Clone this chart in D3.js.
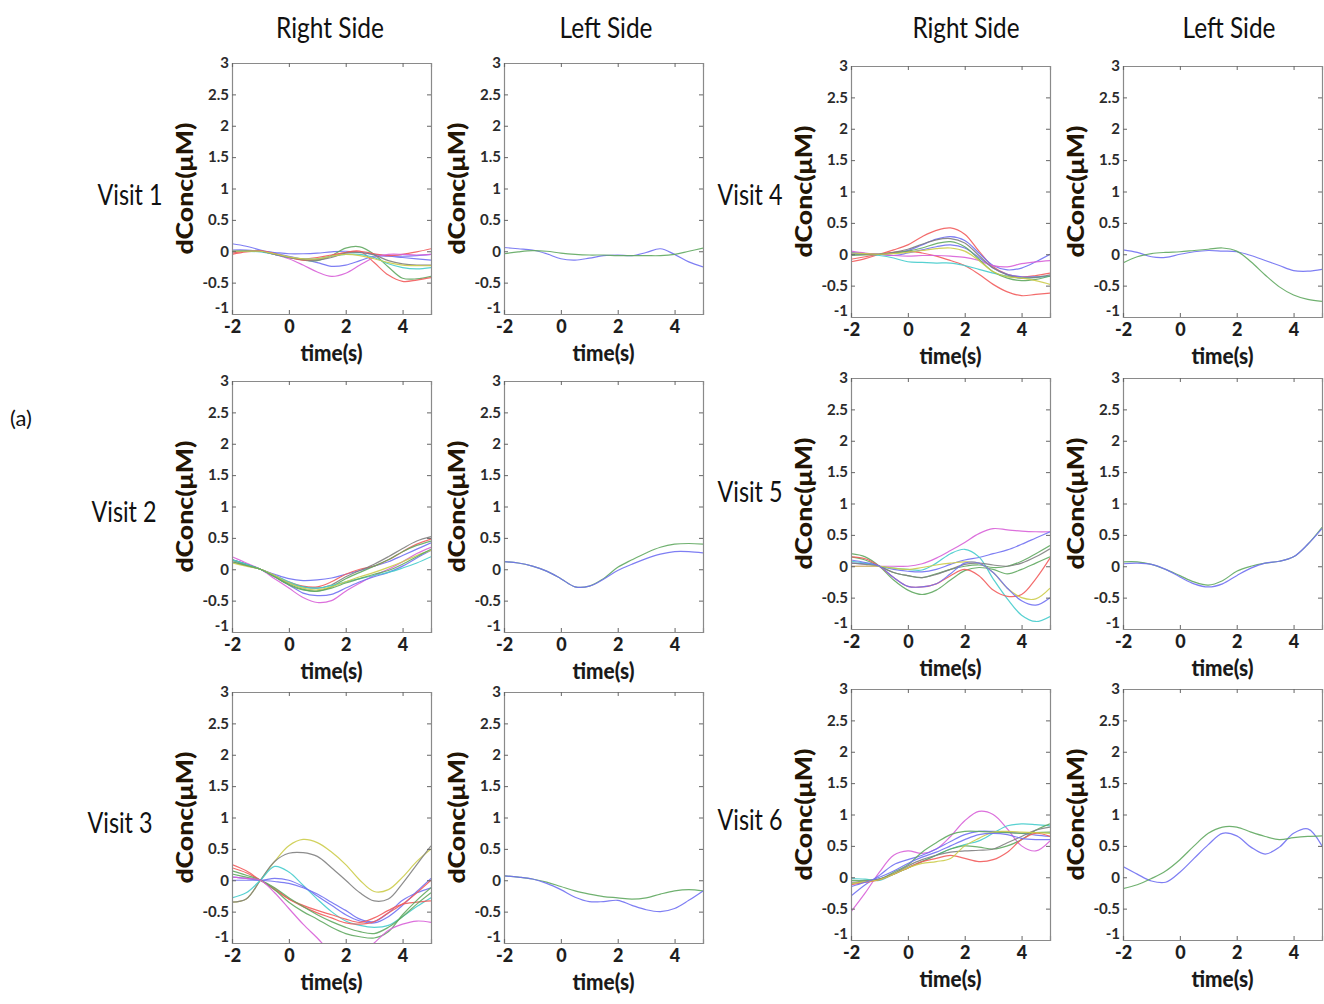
<!DOCTYPE html>
<html>
<head>
<meta charset="utf-8">
<script src="https://cdn.jsdelivr.net/npm/d3@7"></script>
<style>
  html, body { margin: 0; padding: 0; background: #fff; }
  svg { display: block; }
</style>
</head>
<body>
<svg id="chart" width="1324" height="1004"></svg>
<script>
// ---------------- DATA ----------------
const timePoints = [-2,-1.5,-1,-0.5,0,0.5,1,1.5,2,2.5,3,3.5,4,4.5,5];
const xTicks = [-2, 0, 2, 4];
const yTicks = [-1, -0.5, 0, 0.5, 1, 1.5, 2, 2.5, 3];
const columnTitles = ["Right Side", "Left Side", "Right Side", "Left Side"];
const visitLabels = ["Visit 1", "Visit 2", "Visit 3", "Visit 4", "Visit 5", "Visit 6"];
const xAxisLabel = "time(s)";
const yAxisLabel = "dConc(\u03BCM)";
const figureTag = "(a)";

const visit1Right = [
  {name:"blue",    values:[0.12,0.08,0.02,-0.03,-0.08,-0.13,-0.18,-0.24,-0.22,-0.15,-0.08,-0.08,-0.10,-0.12,-0.14]},
  {name:"blue",    values:[0.02,0.02,0.00,-0.02,-0.04,-0.04,-0.03,-0.01,0.00,-0.02,-0.05,-0.07,-0.08,-0.07,-0.05]},
  {name:"green",   values:[0.00,0.01,0.00,-0.05,-0.10,-0.14,-0.15,-0.07,0.05,0.07,-0.05,-0.25,-0.43,-0.44,-0.40]},
  {name:"red",     values:[-0.03,0.00,0.01,-0.04,-0.10,-0.14,-0.13,-0.08,-0.02,0.00,-0.18,-0.38,-0.48,-0.46,-0.42]},
  {name:"red",     values:[-0.05,-0.01,0.00,-0.04,-0.10,-0.12,-0.10,-0.06,-0.02,0.00,-0.04,-0.07,-0.05,-0.01,0.04]},
  {name:"magenta", values:[0.00,0.00,0.00,-0.05,-0.12,-0.22,-0.33,-0.40,-0.35,-0.22,-0.10,-0.05,-0.05,-0.06,-0.05]},
  {name:"cyan",    values:[0.00,0.00,-0.01,-0.05,-0.10,-0.12,-0.12,-0.08,-0.05,-0.05,-0.10,-0.20,-0.26,-0.28,-0.26]},
  {name:"gray",    values:[0.00,0.00,0.00,-0.05,-0.10,-0.13,-0.14,-0.10,-0.03,-0.02,-0.06,-0.15,-0.20,-0.22,-0.22]},
  {name:"yellow",  values:[0.00,0.00,0.00,-0.04,-0.09,-0.12,-0.12,-0.08,-0.05,-0.07,-0.12,-0.18,-0.22,-0.23,-0.23]}
];
const visit1Left = [
  {name:"blue",  values:[0.06,0.04,0.02,-0.04,-0.12,-0.14,-0.11,-0.07,-0.06,-0.07,-0.02,0.04,-0.05,-0.17,-0.25]},
  {name:"green", values:[-0.04,-0.01,0.01,0.00,-0.03,-0.05,-0.06,-0.06,-0.07,-0.07,-0.07,-0.07,-0.05,0.00,0.05]}
];
const visit2Right = [
  {name:"magenta", values:[0.20,0.10,0.00,-0.15,-0.30,-0.45,-0.53,-0.50,-0.35,-0.22,-0.10,0.00,0.12,0.25,0.35]},
  {name:"blue",    values:[0.15,0.08,0.00,-0.08,-0.15,-0.18,-0.17,-0.14,-0.08,-0.02,0.05,0.12,0.22,0.32,0.42]},
  {name:"blue",    values:[0.15,0.08,0.00,-0.12,-0.25,-0.38,-0.42,-0.40,-0.30,-0.20,-0.12,-0.05,0.05,0.18,0.30]},
  {name:"red",     values:[0.15,0.07,0.00,-0.10,-0.20,-0.27,-0.28,-0.20,-0.08,0.00,0.05,0.15,0.28,0.40,0.48]},
  {name:"green",   values:[0.15,0.08,0.00,-0.12,-0.25,-0.33,-0.35,-0.28,-0.15,-0.05,0.05,0.15,0.28,0.38,0.45]},
  {name:"gray",    values:[0.12,0.06,0.00,-0.10,-0.22,-0.28,-0.30,-0.25,-0.12,-0.02,0.08,0.20,0.33,0.45,0.52]},
  {name:"cyan",    values:[0.15,0.08,0.00,-0.10,-0.20,-0.28,-0.30,-0.26,-0.20,-0.15,-0.10,-0.05,0.02,0.10,0.20]},
  {name:"yellow",  values:[0.10,0.05,0.00,-0.10,-0.22,-0.30,-0.33,-0.28,-0.20,-0.12,-0.05,0.03,0.12,0.22,0.30]},
  {name:"green",   values:[0.12,0.06,0.00,-0.12,-0.24,-0.32,-0.35,-0.30,-0.22,-0.15,-0.08,-0.02,0.08,0.20,0.32]}
];
const visit2Left = [
  {name:"green", values:[0.12,0.10,0.05,-0.03,-0.15,-0.28,-0.27,-0.15,0.03,0.15,0.26,0.35,0.40,0.41,0.40]},
  {name:"blue",  values:[0.12,0.10,0.05,-0.03,-0.15,-0.28,-0.27,-0.16,-0.02,0.08,0.17,0.24,0.28,0.28,0.26]}
];
const visit3Right = [
  {name:"yellow",  values:[-0.35,-0.30,0.00,0.30,0.55,0.65,0.60,0.45,0.25,0.00,-0.18,-0.15,0.05,0.30,0.50]},
  {name:"gray",    values:[-0.35,-0.30,0.00,0.30,0.43,0.44,0.38,0.20,0.00,-0.20,-0.33,-0.30,-0.05,0.25,0.55]},
  {name:"cyan",    values:[-0.28,-0.20,0.00,0.22,0.13,-0.08,-0.30,-0.50,-0.65,-0.72,-0.75,-0.72,-0.58,-0.42,-0.28]},
  {name:"blue",    values:[0.05,0.03,0.00,0.03,0.00,-0.10,-0.25,-0.40,-0.55,-0.65,-0.68,-0.58,-0.40,-0.18,0.03]},
  {name:"blue",    values:[0.00,0.00,0.00,-0.02,-0.05,-0.12,-0.22,-0.35,-0.48,-0.62,-0.66,-0.52,-0.32,-0.20,-0.12]},
  {name:"red",     values:[0.20,0.12,0.00,-0.15,-0.30,-0.42,-0.52,-0.60,-0.68,-0.70,-0.66,-0.52,-0.38,-0.20,0.00]},
  {name:"red",     values:[0.25,0.15,0.00,-0.13,-0.30,-0.40,-0.48,-0.55,-0.62,-0.67,-0.60,-0.48,-0.38,-0.35,-0.33]},
  {name:"green",   values:[0.15,0.08,0.00,-0.15,-0.35,-0.50,-0.62,-0.75,-0.85,-0.90,-0.92,-0.82,-0.55,-0.32,-0.12]},
  {name:"green",   values:[0.10,0.05,0.00,-0.12,-0.28,-0.42,-0.55,-0.66,-0.75,-0.82,-0.85,-0.75,-0.58,-0.38,-0.20]},
  {name:"magenta", values:[0.05,0.03,0.00,-0.20,-0.45,-0.70,-0.92,-1.15,-1.25,-1.20,-1.00,-0.80,-0.70,-0.65,-0.67]}
];
const visit3Left = [
  {name:"green", values:[0.07,0.05,0.02,-0.03,-0.10,-0.17,-0.22,-0.26,-0.28,-0.30,-0.28,-0.22,-0.17,-0.15,-0.17]},
  {name:"blue",  values:[0.07,0.05,0.02,-0.05,-0.15,-0.27,-0.34,-0.34,-0.32,-0.40,-0.47,-0.50,-0.45,-0.32,-0.17]}
];
const visit4Right = [
  {name:"red",     values:[-0.12,-0.07,0.00,0.07,0.15,0.28,0.38,0.42,0.32,0.05,-0.20,-0.32,-0.36,-0.34,-0.30]},
  {name:"red",     values:[-0.08,-0.04,0.00,0.03,0.05,0.02,-0.03,-0.10,-0.18,-0.32,-0.48,-0.60,-0.66,-0.64,-0.62]},
  {name:"blue",    values:[0.02,0.01,0.00,0.02,0.06,0.15,0.24,0.28,0.22,0.02,-0.18,-0.25,-0.22,-0.12,0.00]},
  {name:"blue",    values:[0.03,0.01,0.00,-0.02,0.02,0.07,0.12,0.15,0.10,-0.05,-0.22,-0.32,-0.36,-0.36,-0.35]},
  {name:"cyan",    values:[0.00,0.00,-0.02,-0.06,-0.12,-0.13,-0.14,-0.14,-0.18,-0.24,-0.30,-0.35,-0.38,-0.37,-0.35]},
  {name:"magenta", values:[0.05,0.02,0.00,-0.02,-0.03,-0.02,-0.02,-0.03,-0.05,-0.10,-0.18,-0.20,-0.15,-0.12,-0.10]},
  {name:"green",   values:[-0.02,-0.01,0.00,0.02,0.05,0.10,0.17,0.20,0.12,-0.08,-0.28,-0.38,-0.42,-0.40,-0.35]},
  {name:"gray",    values:[0.00,0.00,0.00,0.03,0.08,0.16,0.23,0.25,0.18,-0.02,-0.22,-0.33,-0.38,-0.37,-0.33]},
  {name:"yellow",  values:[0.02,0.01,0.00,0.01,0.03,0.06,0.09,0.10,0.05,-0.10,-0.28,-0.36,-0.38,-0.42,-0.48]}
];
const visit4Left = [
  {name:"blue",  values:[0.07,0.03,-0.04,-0.05,0.00,0.04,0.06,0.05,0.04,-0.02,-0.10,-0.18,-0.26,-0.27,-0.24]},
  {name:"green", values:[-0.14,-0.04,0.01,0.03,0.04,0.06,0.08,0.10,0.05,-0.12,-0.33,-0.52,-0.65,-0.72,-0.75]}
];
const visit5Right = [
  {name:"magenta", values:[0.00,0.00,0.00,0.00,0.00,0.04,0.13,0.25,0.38,0.52,0.60,0.58,0.56,0.55,0.55]},
  {name:"blue",    values:[0.05,0.04,0.00,-0.05,-0.08,-0.09,-0.05,0.03,0.10,0.14,0.20,0.26,0.35,0.45,0.55]},
  {name:"cyan",    values:[0.08,0.05,0.00,-0.03,-0.05,-0.06,0.05,0.20,0.27,0.15,-0.20,-0.52,-0.78,-0.88,-0.80]},
  {name:"green",   values:[0.20,0.15,0.00,-0.22,-0.38,-0.45,-0.38,-0.22,-0.07,-0.02,-0.05,-0.12,-0.05,0.05,0.15]},
  {name:"green",   values:[0.15,0.10,0.00,-0.10,-0.15,-0.18,-0.12,-0.05,0.00,0.02,-0.02,0.00,0.08,0.20,0.33]},
  {name:"red",     values:[0.15,0.12,0.00,-0.18,-0.32,-0.33,-0.28,-0.15,-0.05,-0.15,-0.38,-0.48,-0.45,-0.20,0.13]},
  {name:"gray",    values:[0.05,0.03,0.00,-0.10,-0.15,-0.18,-0.13,-0.05,0.03,0.05,0.02,0.00,0.05,0.15,0.28]},
  {name:"yellow",  values:[0.00,0.00,0.00,-0.03,-0.05,-0.02,0.02,0.05,0.07,0.05,-0.10,-0.35,-0.50,-0.52,-0.35]},
  {name:"blue",    values:[0.10,0.06,0.00,-0.18,-0.32,-0.33,-0.28,-0.12,0.05,0.05,-0.10,-0.35,-0.55,-0.62,-0.50]}
];
const visit5Left = [
  {name:"green", values:[0.07,0.07,0.03,-0.05,-0.15,-0.25,-0.30,-0.23,-0.08,0.00,0.05,0.08,0.15,0.35,0.62]},
  {name:"blue",  values:[0.04,0.05,0.03,-0.05,-0.17,-0.28,-0.33,-0.28,-0.15,-0.03,0.05,0.08,0.15,0.35,0.60]}
];
const visit6Right = [
  {name:"magenta", values:[-0.55,-0.25,0.08,0.35,0.42,0.38,0.45,0.65,0.90,1.05,1.00,0.77,0.50,0.42,0.58]},
  {name:"blue",    values:[-0.30,-0.12,0.03,0.20,0.28,0.35,0.45,0.57,0.68,0.73,0.73,0.72,0.70,0.67,0.65]},
  {name:"cyan",    values:[-0.02,-0.03,-0.05,0.05,0.15,0.25,0.35,0.45,0.52,0.58,0.70,0.82,0.85,0.84,0.82]},
  {name:"green",   values:[-0.05,-0.05,-0.03,0.08,0.20,0.40,0.55,0.68,0.73,0.73,0.72,0.71,0.70,0.71,0.72]},
  {name:"green",   values:[-0.10,-0.07,-0.03,0.05,0.15,0.25,0.35,0.45,0.50,0.48,0.45,0.50,0.60,0.75,0.85]},
  {name:"red",     values:[-0.12,-0.08,-0.04,0.05,0.15,0.25,0.30,0.35,0.30,0.25,0.28,0.40,0.60,0.70,0.65]},
  {name:"gray",    values:[-0.08,-0.06,-0.03,0.06,0.18,0.28,0.35,0.40,0.42,0.43,0.45,0.55,0.65,0.75,0.80]},
  {name:"yellow",  values:[-0.10,-0.07,-0.04,0.05,0.15,0.22,0.25,0.30,0.50,0.62,0.72,0.73,0.72,0.71,0.70]},
  {name:"blue",    values:[-0.15,-0.08,0.00,0.10,0.22,0.32,0.40,0.50,0.60,0.68,0.70,0.68,0.62,0.60,0.60]}
];
const visit6Left = [
  {name:"blue",  values:[0.17,0.05,-0.06,-0.08,0.08,0.30,0.52,0.70,0.66,0.48,0.37,0.48,0.70,0.77,0.50]},
  {name:"green", values:[-0.18,-0.12,-0.02,0.10,0.28,0.50,0.70,0.80,0.80,0.72,0.65,0.60,0.63,0.65,0.66]}
];

// ---------------- STYLE / LAYOUT ----------------
const lineColors = {
  blue: "#7070f2", green: "#60a860", red: "#f25c5c", cyan: "#45cccc",
  magenta: "#d860d8", yellow: "#cccc4a", gray: "#808080"
};
const FONT = 'Lato, "Open Sans", sans-serif';
const panelW = 199, panelH = 251;
const colX = [232, 504, 851, 1123];
const rowYLeft = [63, 381, 692];
const rowYRight = [66, 378, 689];

const grid = [
  [visit1Right, visit1Left, visit4Right, visit4Left],
  [visit2Right, visit2Left, visit5Right, visit5Left],
  [visit3Right, visit3Left, visit6Right, visit6Left]
];

const svg = d3.select("#chart");
const defs = svg.append("defs");

const x = d3.scaleLinear().domain([-2, 5]).range([0, panelW]);
const y = d3.scaleLinear().domain([-1, 3]).range([panelH, 0]);
const line = d3.line()
  .x((d, i) => x(timePoints[i]))
  .y(d => y(d))
  .curve(d3.curveCatmullRom.alpha(0.5));

let clipId = 0;
grid.forEach((row, r) => {
  row.forEach((series, c) => {
    const px = colX[c];
    const py = c < 2 ? rowYLeft[r] : rowYRight[r];
    const g = svg.append("g").attr("transform", `translate(${px},${py})`);
    const id = "clip" + (clipId++);
    defs.append("clipPath").attr("id", id)
      .append("rect").attr("x", 0).attr("y", 0).attr("width", panelW).attr("height", panelH);

    const lg = g.append("g").attr("clip-path", `url(#${id})`);
    lg.selectAll("path").data(series).join("path")
      .attr("d", d => line(d.values))
      .attr("fill", "none")
      .attr("stroke", d => lineColors[d.name])
      .attr("stroke-width", 1.2)
      .attr("stroke-opacity", 0.9);

    const tickLen = 4;
    const axL = d3.axisLeft(y).tickValues(yTicks).tickSize(-tickLen).tickPadding(7)
      .tickFormat(d => String(d));
    const axR = d3.axisRight(y).tickValues(yTicks).tickSize(-tickLen).tickFormat("");
    const axB = d3.axisBottom(x).tickValues(xTicks).tickSize(-tickLen).tickPadding(6)
      .tickFormat(d => String(d));
    const axT = d3.axisTop(x).tickValues(xTicks).tickSize(-tickLen).tickFormat("");

    const gl = g.append("g").call(axL);
    g.append("g").attr("transform", `translate(${panelW},0)`).call(axR);
    const gb = g.append("g").attr("transform", `translate(0,${panelH})`).call(axB);
    g.append("g").call(axT);

    g.selectAll(".domain").attr("stroke", "#8a8a8a").attr("stroke-width", 1.2);
    g.selectAll(".tick line").attr("stroke", "#666").attr("stroke-width", 1);
    gl.selectAll("text").attr("font-family", FONT).attr("font-size", 15)
      .attr("font-weight", "bold").attr("fill", "#2b2b2b").attr("dx", 4)
      .attr("y", d => d === -1 ? -6 : 0);
    gb.selectAll("text").attr("font-family", FONT).attr("font-size", 18)
      .attr("font-weight", "900").attr("fill", "#1e1e1e");

    g.append("text")
      .attr("x", panelW / 2).attr("y", panelH + 47)
      .attr("text-anchor", "middle")
      .attr("font-family", FONT).attr("font-size", 22).attr("font-weight", "900")
      .attr("textLength", 62).attr("lengthAdjust", "spacingAndGlyphs")
      .attr("fill", "#1a1a1a").text(xAxisLabel);
    g.append("text")
      .attr("transform", `translate(-39,${panelH / 2}) rotate(-90)`)
      .attr("text-anchor", "middle")
      .attr("font-family", FONT).attr("font-size", 23).attr("font-weight", "900")
      .attr("textLength", 132).attr("lengthAdjust", "spacingAndGlyphs")
      .attr("fill", "#231505").text(yAxisLabel);
  });
});

// column titles
const titleCenters = [330, 606, 966, 1229];
const titleWidths = [108, 93, 107, 93];
columnTitles.forEach((t, i) => {
  svg.append("text").attr("x", titleCenters[i]).attr("y", 38)
    .attr("text-anchor", "middle").attr("font-family", FONT)
    .attr("font-size", 29).attr("fill", "#111")
    .attr("textLength", titleWidths[i]).attr("lengthAdjust", "spacingAndGlyphs")
    .text(t);
});

// visit labels
const visitPos = [[130, 205], [124, 522], [120, 833], [750, 205], [750, 502], [750, 830]];
visitLabels.forEach((t, i) => {
  svg.append("text").attr("x", visitPos[i][0]).attr("y", visitPos[i][1])
    .attr("text-anchor", "middle").attr("font-family", FONT)
    .attr("font-size", 29).attr("fill", "#111")
    .attr("textLength", 65).attr("lengthAdjust", "spacingAndGlyphs")
    .text(t);
});

svg.append("text").attr("x", 10).attr("y", 426)
  .attr("font-family", FONT)
  .attr("font-size", 22).attr("fill", "#111").text(figureTag);
</script>
</body>
</html>
